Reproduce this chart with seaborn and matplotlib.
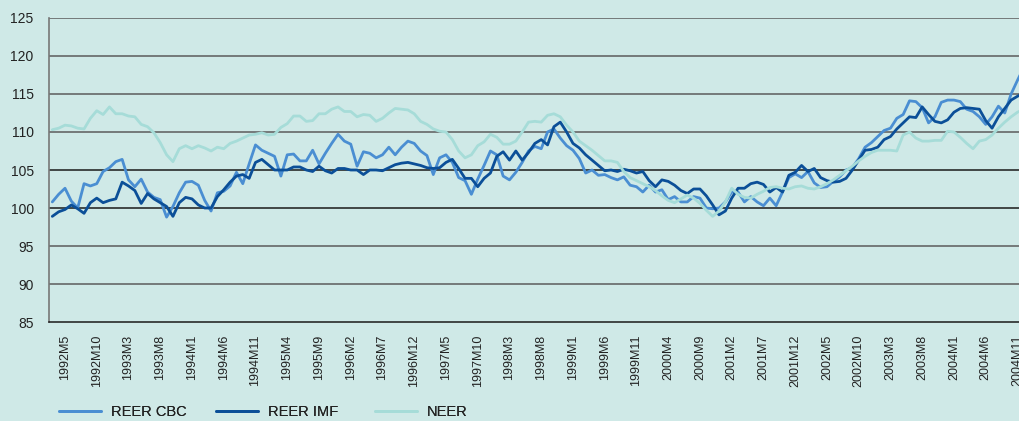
import numpy as np
import pandas as pd
import matplotlib
matplotlib.use('Agg')
import matplotlib.pyplot as plt
import seaborn as sns

# monthly series, 1992M3 .. 2004M12
start_year, start_month = 1992, 3

reer_cbc = [
    100.8, 101.8, 102.6, 100.9, 100.0, 103.2, 102.9, 103.2, 104.8, 105.3,
    106.1, 106.4, 103.7, 102.8, 103.8, 102.1, 101.4, 101.1, 98.8, 100.2,
    102.0, 103.4, 103.5, 103.0, 101.0, 99.6, 102.0, 102.2, 102.9, 104.7,
    103.2, 105.8, 108.3, 107.6, 107.2, 106.8, 104.2, 107.0, 107.1, 106.2,
    106.2, 107.6, 105.8, 107.2, 108.5, 109.7, 108.8, 108.4, 105.5, 107.4,
    107.2, 106.6, 107.0, 108.0, 107.0, 108.0, 108.8, 108.5, 107.5, 106.9,
    104.4, 106.6, 107.0, 106.0, 104.0, 103.6, 101.8, 103.8, 105.6, 107.5,
    107.0, 104.2, 103.7, 104.7, 106.0, 107.5, 108.1, 107.8, 110.0, 110.4,
    109.2, 108.2, 107.6, 106.5, 104.6, 105.0, 104.3, 104.4, 104.0, 103.7,
    104.1, 103.0, 102.8, 102.1, 103.0, 102.1, 102.4, 101.1, 101.5, 100.8,
    100.8, 101.5, 101.3, 100.0, 99.9, 100.0, 100.8, 102.1, 102.1, 100.8,
    101.5, 100.8, 100.3, 101.3, 100.3, 102.1, 104.0, 104.5, 104.0, 104.8,
    103.3, 102.7, 102.8, 103.5, 104.1, 105.0, 105.3, 106.5, 108.0, 108.6,
    109.4, 110.2, 110.5, 111.8, 112.3, 114.1, 114.0, 113.2, 111.2, 112.0,
    113.9, 114.2, 114.2, 114.0, 113.0, 112.7, 112.0, 111.0, 112.0, 113.4,
    112.5, 115.0, 116.8, 118.5,
]

reer_imf = [
    98.9, 99.5, 99.8, 100.4, 99.9, 99.3, 100.7, 101.3, 100.7, 101.0,
    101.2, 103.4, 102.9, 102.3, 100.6, 101.9, 101.2, 100.7, 100.2, 98.9,
    100.7, 101.4, 101.2, 100.4, 100.0, 100.0, 101.5, 102.4, 103.4, 104.2,
    104.4, 103.9, 106.0, 106.4, 105.7, 105.0, 105.0, 105.0, 105.4, 105.4,
    105.0, 104.8, 105.5, 104.9, 104.6, 105.2, 105.2, 105.0, 105.0, 104.4,
    105.0, 105.0, 104.9, 105.3, 105.7, 105.9, 106.0, 105.8, 105.6, 105.3,
    105.2, 105.3, 106.0, 106.4, 105.2, 103.9, 103.9, 102.8, 103.9, 104.6,
    106.8, 107.4, 106.3, 107.5, 106.3, 107.3, 108.5, 109.0, 108.3, 110.7,
    111.3, 110.0, 108.5, 107.9, 107.0, 106.3, 105.6, 104.9, 105.0, 104.8,
    105.1, 104.9, 104.6, 104.8, 103.6, 102.8, 103.7, 103.5, 103.0, 102.3,
    101.9, 102.5, 102.5, 101.6, 100.4, 99.1, 99.6, 101.3, 102.6, 102.6,
    103.2, 103.4, 103.1, 102.1, 102.7, 102.1, 104.3, 104.7, 105.6, 104.8,
    105.2, 104.0, 103.6, 103.4, 103.5, 103.9, 105.0, 106.3, 107.6, 107.7,
    108.0, 109.0, 109.4, 110.4, 111.2, 112.0, 111.9, 113.3, 112.3, 111.4,
    111.2, 111.6, 112.6, 113.1, 113.2, 113.1, 113.0, 111.5, 110.5, 112.0,
    113.1, 114.2, 114.7, 115.1,
]

neer = [
    110.3, 110.5, 110.9, 110.8, 110.5, 110.4, 111.8, 112.8, 112.3, 113.3,
    112.4, 112.4, 112.1, 112.0, 111.0, 110.7, 109.9, 108.6, 107.0, 106.1,
    107.8, 108.2, 107.8, 108.2, 107.9, 107.5, 108.0, 107.8, 108.5, 108.8,
    109.2, 109.6, 109.7, 109.9, 109.6, 109.7, 110.6, 111.1, 112.1, 112.1,
    111.4, 111.5, 112.4, 112.4, 113.0, 113.3, 112.7, 112.7, 112.0, 112.3,
    112.2, 111.4, 111.8, 112.5, 113.1, 113.0, 112.9, 112.4, 111.4, 111.0,
    110.4, 110.1, 110.0, 109.0, 107.5, 106.6, 107.0, 108.2, 108.7, 109.7,
    109.3, 108.4, 108.4, 108.8, 110.0, 111.3, 111.4, 111.3, 112.2, 112.4,
    112.0, 110.9, 110.0, 108.8, 108.2, 107.6, 106.9, 106.2, 106.2, 106.0,
    104.8, 104.0, 103.6, 103.2, 102.8, 102.3, 101.6, 101.0, 100.7, 101.2,
    101.7, 101.3, 100.6, 99.7, 98.9, 99.6, 100.8, 102.6, 101.8, 101.4,
    101.3, 101.8, 102.2, 102.7, 102.8, 102.6, 102.5, 102.8, 102.9, 102.6,
    102.5, 102.8, 103.2, 103.7, 104.3, 104.9, 105.5, 106.2, 106.8, 107.3,
    107.6, 107.6, 107.6, 107.5, 109.6, 110.0, 109.2, 108.8, 108.8, 108.9,
    108.9, 110.1, 110.0, 109.3, 108.5, 107.8, 108.8, 109.0, 109.6, 110.5,
    111.3, 112.0, 112.6, 113.0,
]

series_names = ['REER CBC', 'REER IMF', 'NEER']
colors = ['#4a8ed2', '#0b4f98', '#a6dcd8']
bg = '#cfe9e7'

n = len(neer)
months = [(start_year + (start_month - 1 + k) // 12, (start_month - 1 + k) % 12 + 1) for k in range(n)]
month_labels = [f"{y}M{m}" for y, m in months]

df = pd.DataFrame({
    'idx': np.tile(np.arange(n), 3),
    'value': reer_cbc + reer_imf + neer,
    'series': np.repeat(series_names, n),
})

sns.set_style('white')
plt.rcParams['font.family'] = ['Liberation Sans', 'DejaVu Sans']

fig = plt.figure(figsize=(10.2, 4.21), dpi=100, facecolor=bg)
ax = fig.add_axes([49 / 1020, 1 - 322 / 421, 1 - 49 / 1020, (322 - 18) / 421])
ax.set_facecolor(bg)

# gridlines
for v in range(90, 126, 5):
    ax.axhline(v, color='#1a1a1a' if v in (100, 105) else '#5c5c5c', lw=1.1, zorder=1)

sns.lineplot(data=df, x='idx', y='value', hue='series', hue_order=series_names,
             palette=colors, linewidth=2.0, ax=ax, legend=False, zorder=3)

ax.set_xlim(-0.52, 152.4)
ax.set_ylim(85, 125)
ax.set_yticks(range(85, 126, 5))
ax.tick_params(axis='y', length=0, pad=11, labelsize=10, labelcolor='#222222')

tick_pos = list(range(2, n, 5))
ax.set_xticks(tick_pos)
ax.set_xticklabels([month_labels[p] for p in tick_pos], rotation=90, fontsize=9, color='#222222')
ax.tick_params(axis='x', length=6, width=1, color='#555555', pad=3, direction='out')

ax.set_xlabel('')
ax.set_ylabel('')
for s in ['top', 'right']:
    ax.spines[s].set_visible(False)
ax.spines['left'].set_color('#777777')
ax.spines['left'].set_linewidth(1.2)
ax.spines['bottom'].set_color('#1a1a1a')
ax.spines['bottom'].set_linewidth(1.1)

# legend entries placed one by one along the bottom
legend_x = [59 / 1020, 216 / 1020, 375 / 1020]
for name, c, lx in zip(series_names, colors, legend_x):
    leg = fig.legend([plt.Line2D([], [], color=c, lw=2.0)], [name], loc='center left',
                     bbox_to_anchor=(lx, 0.022), frameon=False, fontsize=10.5,
                     handlelength=2.9, handletextpad=0.65, borderpad=0, borderaxespad=0,
                     labelcolor='#222222')
    fig.add_artist(leg)

fig.savefig('out.png', dpi=100, facecolor=bg)
